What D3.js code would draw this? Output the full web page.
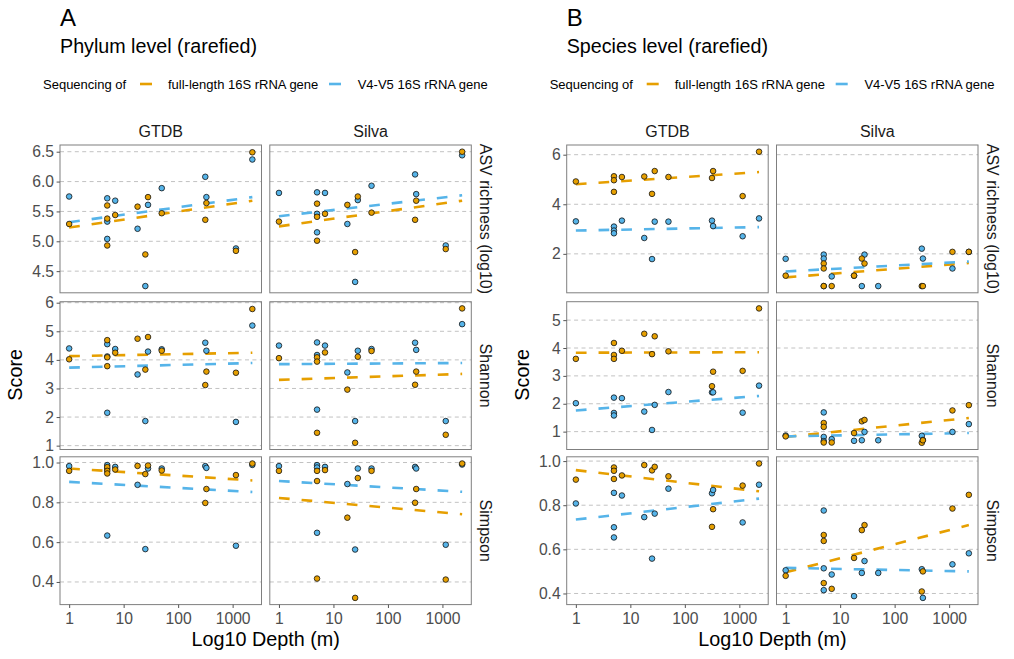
<!DOCTYPE html>
<html>
<head>
<meta charset="utf-8">
<title>Diversity by depth</title>
<script src="https://cdn.jsdelivr.net/npm/d3@7"></script>
<style>
  body { margin: 0; background: #fff; }
  svg text { font-family: "Liberation Sans", Arial, Helvetica, sans-serif; }
</style>
</head>
<body>
<svg width="1014" height="659"></svg>
<script>
var depths = [1, 5, 5, 5, 7, 18, 25, 28, 50, 315, 330, 1150, 2300];
var databases = ["GTDB", "Silva"];
var metrics = ["ASV richness (log10)", "Shannon", "Simpson"];
var seriesNames = ["full-length 16S rRNA gene", "V4-V5 16S rRNA gene"];
var seriesColors = ["#E69F00", "#56B4E9"];
var xTicks = [1, 10, 100, 1000];
var phylumTicks = [[4.5, 5, 5.5, 6, 6.5], [1, 2, 3, 4, 5, 6], [0.4, 0.6, 0.8, 1]];
var speciesTicks = [[2, 4, 6], [1, 2, 3, 4, 5], [0.4, 0.6, 0.8, 1]];

// phylum level
var phylumGtdbAsvFull = [5.29, 5.60, 5.38, 4.93, 5.44, 5.58, 4.78, 5.74, 5.47, 5.36, 5.64, 4.84, 6.49];
var phylumGtdbAsvV4 = [5.75, 5.72, 5.33, 5.04, 5.68, 5.21, 4.25, 5.61, 5.89, 6.08, 5.74, 4.88, 6.37];
var phylumSilvaAsvFull = [5.33, 5.63, 5.41, 5.01, 5.46, 5.61, 4.82, 5.75, 5.48, 5.36, 5.68, 4.87, 6.50];
var phylumSilvaAsvV4 = [5.81, 5.82, 5.46, 5.15, 5.81, 5.29, 4.32, 5.69, 5.93, 6.12, 5.79, 4.93, 6.44];
var phylumGtdbShannonFull = [4.02, 4.69, 4.09, 3.78, 4.25, 4.74, 3.66, 4.80, 4.32, 3.12, 3.59, 3.55, 5.78];
var phylumGtdbShannonV4 = [4.40, 4.55, 4.12, 2.15, 4.38, 3.49, 1.86, 4.29, 4.37, 4.60, 4.32, 1.83, 5.20];
var phylumSilvaShannonFull = [4.06, 4.09, 3.94, 1.45, 4.26, 2.96, 1.10, 4.11, 4.31, 3.13, 3.59, 1.38, 5.80];
var phylumSilvaShannonV4 = [4.50, 4.61, 4.17, 2.26, 4.50, 3.56, 1.86, 4.32, 4.38, 4.60, 4.35, 1.86, 5.25];
var phylumGtdbSimpsonFull = [0.958, 0.977, 0.958, 0.945, 0.965, 0.983, 0.942, 0.985, 0.960, 0.797, 0.867, 0.937, 0.995];
var phylumGtdbSimpsonV4 = [0.982, 0.987, 0.968, 0.633, 0.978, 0.888, 0.565, 0.970, 0.970, 0.982, 0.973, 0.582, 0.988];
var phylumSilvaSimpsonFull = [0.958, 0.958, 0.907, 0.417, 0.962, 0.723, 0.320, 0.922, 0.958, 0.798, 0.867, 0.412, 0.995];
var phylumSilvaSimpsonV4 = [0.982, 0.987, 0.975, 0.647, 0.978, 0.892, 0.563, 0.970, 0.970, 0.978, 0.970, 0.587, 0.990];

// species level
var speciesGtdbAsvFull = [4.92, 5.13, 4.97, 4.50, 5.10, 5.12, 4.42, 5.34, 5.10, 5.06, 5.34, 4.33, 6.12];
var speciesGtdbAsvV4 = [3.31, 3.10, 2.94, 2.83, 3.34, 2.64, 1.79, 3.30, 3.30, 3.34, 3.12, 2.71, 3.43];
var speciesSilvaAsvFull = [1.12, 1.61, 1.41, 0.70, 0.70, 1.12, 1.81, 1.61, null, 0.70, 0.70, 2.08, 2.08];
var speciesSilvaAsvV4 = [1.80, 1.97, 1.81, 0.70, 1.09, 1.12, 0.70, 1.97, 0.70, 2.21, 1.81, 1.41, 2.08];
var speciesGtdbShannonFull = [3.61, 4.18, 3.75, 3.61, 3.90, 4.51, 3.78, 4.42, 3.88, 2.63, 3.15, 3.18, 5.42];
var speciesGtdbShannonV4 = [2.02, 2.22, 1.67, 1.58, 2.20, 1.72, 1.06, 1.96, 2.42, 2.41, 2.41, 1.68, 2.65];
var speciesSilvaShannonFull = [0.83, 1.31, 1.17, 0.61, 0.61, 0.95, 1.37, 1.42, null, 0.60, 0.69, 1.76, 1.95];
var speciesSilvaShannonV4 = [0.86, 1.69, 0.81, 0.66, 0.73, 0.67, 0.69, 0.99, 0.69, 0.85, 0.70, 0.99, 1.27];
var speciesGtdbSimpsonFull = [0.916, 0.971, 0.956, 0.919, 0.935, 0.982, 0.958, 0.974, 0.931, 0.702, 0.782, 0.889, 0.989];
var speciesGtdbSimpsonV4 = [0.808, 0.856, 0.700, 0.654, 0.844, 0.746, 0.558, 0.762, 0.875, 0.854, 0.869, 0.722, 0.893];
var speciesSilvaSimpsonFull = [0.480, 0.665, 0.638, 0.447, 0.421, 0.561, 0.687, 0.710, null, 0.409, 0.500, 0.785, 0.847];
var speciesSilvaSimpsonV4 = [0.505, 0.776, 0.514, 0.415, 0.486, 0.388, 0.493, 0.547, 0.493, 0.510, 0.380, 0.532, 0.582];

// linear trend value at the shallowest and deepest sample, per metric x database
var phylumFitFull = [[5.23, 5.68], [5.25, 5.68], [4.13, 4.25], [3.30, 3.51], [0.970, 0.910], [0.822, 0.740]];
var phylumFitV4 = [[5.32, 5.74], [5.42, 5.77], [3.73, 3.89], [3.85, 3.89], [0.903, 0.852], [0.907, 0.853]];
var speciesFitFull = [[4.81, 5.30], [1.05, 1.63], [3.83, 3.85], [0.81, 1.49], [0.959, 0.863], [0.496, 0.710]];
var speciesFitV4 = [[2.94, 3.08], [1.29, 1.69], [1.76, 2.28], [0.83, 0.95], [0.735, 0.830], [0.516, 0.500]];

var levels = [
	{
		tag: "A", title: "Phylum level (rarefied)", left: 60,
		ticks: phylumTicks, formats: [".1f", "d", ".1f"],
		values: [
			[[phylumGtdbAsvFull, phylumGtdbAsvV4], [phylumSilvaAsvFull, phylumSilvaAsvV4]],
			[[phylumGtdbShannonFull, phylumGtdbShannonV4], [phylumSilvaShannonFull, phylumSilvaShannonV4]],
			[[phylumGtdbSimpsonFull, phylumGtdbSimpsonV4], [phylumSilvaSimpsonFull, phylumSilvaSimpsonV4]]
		],
		fits: [phylumFitFull, phylumFitV4]
	},
	{
		tag: "B", title: "Species level (rarefied)", left: 566.7,
		ticks: speciesTicks, formats: ["d", "d", ".1f"],
		values: [
			[[speciesGtdbAsvFull, speciesGtdbAsvV4], [speciesSilvaAsvFull, speciesSilvaAsvV4]],
			[[speciesGtdbShannonFull, speciesGtdbShannonV4], [speciesSilvaShannonFull, speciesSilvaShannonV4]],
			[[speciesGtdbSimpsonFull, speciesGtdbSimpsonV4], [speciesSilvaSimpsonFull, speciesSilvaSimpsonV4]]
		],
		fits: [speciesFitFull, speciesFitV4]
	}
];

var panelW = 201.5, gapX = 8.3, panelH = 147.8;
var rowTops = [145, 301.7, 456.8];

var svg = d3.select("svg");

// log x domain with 5% expansion, like ggplot
var logExt = d3.extent(depths, function(d) { return Math.log10(d); });
var logPad = (logExt[1] - logExt[0]) * 0.05;
var xDomain = [Math.pow(10, logExt[0] - logPad), Math.pow(10, logExt[1] + logPad)];

levels.forEach(function(lv) {
	var g = svg.append("g");

	g.append("text").attr("x", lv.left).attr("y", 26)
		.style("font-size", "24px").text(lv.tag);
	g.append("text").attr("x", lv.left).attr("y", 52.7)
		.style("font-size", "19.7px").text(lv.title);

	// legend
	var lg = g.append("g").attr("transform", "translate(" + (lv.left - 17) + ",0)");
	lg.append("text").attr("x", 0).attr("y", 88.5).style("font-size", "13px").text("Sequencing of");
	var keyX = [97, 286], labX = [125, 314.7];
	seriesNames.forEach(function(s, i) {
		lg.append("line").attr("x1", keyX[i]).attr("x2", keyX[i] + 12)
			.attr("y1", 84).attr("y2", 84)
			.attr("stroke", seriesColors[i]).attr("stroke-width", 2.6);
		lg.append("text").attr("x", labX[i]).attr("y", 88.5)
			.style("font-size", "13px").text(s);
	});

	lv.values.forEach(function(rowVals, r) {
		var top = rowTops[r];
		var all = [];
		rowVals.forEach(function(pair) {
			all = all.concat(pair[0], pair[1]);
		});
		var ext = d3.extent(all.filter(function(v) { return v != null; }));
		var pad = (ext[1] - ext[0]) * 0.05;
		var y = d3.scaleLinear().domain([ext[0] - pad, ext[1] + pad]).range([top + panelH, top]);

		rowVals.forEach(function(pair, c) {
			var left = lv.left + c * (panelW + gapX);
			var x = d3.scaleLog().domain(xDomain).range([left, left + panelW]);
			var pg = g.append("g");

			pg.selectAll(".grid").data(lv.ticks[r]).enter().append("line")
				.attr("x1", left).attr("x2", left + panelW)
				.attr("y1", function(d) { return y(d); }).attr("y2", function(d) { return y(d); })
				.attr("stroke", "#C2C2C2").attr("stroke-width", 1)
				.attr("stroke-dasharray", "4,3.4");

			// trend lines
			[0, 1].forEach(function(s) {
				var fit = lv.fits[s][r * 2 + c];
				pg.append("line")
					.attr("x1", x(d3.min(depths))).attr("x2", x(d3.max(depths)))
					.attr("y1", y(fit[0])).attr("y2", y(fit[1]))
					.attr("stroke", seriesColors[s]).attr("stroke-width", 2.6)
					.attr("stroke-dasharray", "10.7,12");
			});

			// points: blue first, orange on top
			[1, 0].forEach(function(s) {
				var pts = depths.map(function(d, i) { return { d: d, v: pair[s][i] }; })
					.filter(function(p) { return p.v != null; });
				pg.selectAll(".pt" + s).data(pts).enter().append("circle")
					.attr("cx", function(p) { return x(p.d); })
					.attr("cy", function(p) { return y(p.v); })
					.attr("r", 2.8)
					.attr("fill", seriesColors[s])
					.attr("stroke", "#111").attr("stroke-width", 0.8);
			});

			pg.append("rect").attr("x", left).attr("y", top)
				.attr("width", panelW).attr("height", panelH)
				.attr("fill", "none").attr("stroke", "#7F7F7F").attr("stroke-width", 1);

			if (c === 0) {
				var ya = pg.append("g").attr("transform", "translate(" + left + ",0)")
					.call(d3.axisLeft(y).tickValues(lv.ticks[r])
						.tickFormat(d3.format(lv.formats[r])).tickSize(3.4).tickPadding(2.6));
				ya.select(".domain").remove();
				ya.selectAll("line").attr("stroke", "#555");
				ya.selectAll("text").style("font-size", "15.7px").attr("fill", "#4D4D4D");
			}
			if (r === 2) {
				var xa = pg.append("g").attr("transform", "translate(0," + (top + panelH) + ")")
					.call(d3.axisBottom(x).tickValues(xTicks)
						.tickFormat(d3.format("d")).tickSize(3.4).tickPadding(5));
				xa.select(".domain").remove();
				xa.selectAll("line").attr("stroke", "#555");
				xa.selectAll("text").style("font-size", "15.7px").attr("fill", "#4D4D4D");
			}
			if (r === 0) {
				pg.append("text").attr("x", left + panelW / 2).attr("y", top - 8)
					.attr("text-anchor", "middle").style("font-size", "16px")
					.attr("fill", "#1A1A1A").text(databases[c]);
			}
		});

		var rx = lv.left + 2 * panelW + gapX + 9;
		g.append("text")
			.attr("transform", "translate(" + rx + "," + (top + panelH / 2) + ") rotate(90)")
			.attr("text-anchor", "middle").style("font-size", "16px")
			.attr("fill", "#1A1A1A").text(metrics[r]);
	});

	var plotW = 2 * panelW + gapX;
	g.append("text").attr("x", lv.left + plotW / 2).attr("y", 646)
		.attr("text-anchor", "middle").style("font-size", "19.8px").text("Log10 Depth (m)");
	g.append("text")
		.attr("transform", "translate(" + (lv.left - 38) + "," + ((rowTops[0] + rowTops[2] + panelH) / 2) + ") rotate(-90)")
		.attr("text-anchor", "middle").style("font-size", "19.8px").text("Score");
});
</script>
</body>
</html>
